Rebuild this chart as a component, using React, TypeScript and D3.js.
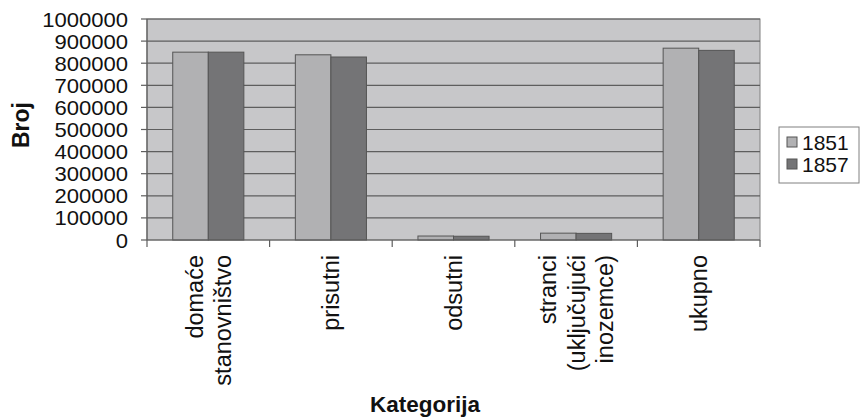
import React from "react";
import * as d3 from "d3";

const categories: string[][] = [
  ["domaće", "stanovništvo"],
  ["prisutni"],
  ["odsutni"],
  ["stranci", "(uključujući", "inozemce)"],
  ["ukupno"],
];
const seriesNames = ["1851", "1857"];
const values1851 = [850000, 838000, 18000, 31000, 868000];
const values1857 = [850000, 828000, 17000, 30000, 858000];
const yTicks = [0, 100000, 200000, 300000, 400000, 500000, 600000, 700000, 800000, 900000, 1000000];

const W = 862;
const H = 417;
const plot = { left: 147, right: 760, top: 19, bottom: 240 };
const colors = ["#b1b1b3", "#747476"];
const FONT = "'Liberation Sans', Arial, sans-serif";

export default function App() {
  const x0 = d3
    .scaleBand<number>()
    .domain(categories.map((_, i) => i))
    .range([plot.left, plot.right])
    .paddingInner(0.42)
    .paddingOuter(0.21);
  const catStep = (plot.right - plot.left) / categories.length;
  const x1 = d3.scaleBand<number>().domain([0, 1]).range([0, x0.bandwidth()]);
  const y = d3.scaleLinear().domain([0, 1000000]).range([plot.bottom, plot.top]);
  const series = [values1851, values1857];

  return (
    <svg
      width={W}
      height={H}
      style={{ position: "absolute", left: 0, top: 0, background: "#fff" }}
      fontFamily={FONT}
    >
      <rect
        x={plot.left}
        y={plot.top}
        width={plot.right - plot.left}
        height={plot.bottom - plot.top}
        fill="#c7c7c9"
        stroke="#808080"
        strokeWidth={1}
      />
      {yTicks.map((t) => (
        <g key={t}>
          {t > 0 && (
            <line x1={plot.left} x2={plot.right} y1={y(t)} y2={y(t)} stroke="#5e5e5e" strokeWidth={1.2} />
          )}
          <line x1={plot.left - 6} x2={plot.left} y1={y(t)} y2={y(t)} stroke="#5e5e5e" strokeWidth={1.2} />
          <text
            transform={`translate(${plot.left - 19},${y(t)}) scale(1.05,1)`}
            dy="0.36em"
            textAnchor="end"
            fontSize={21}
            fill="#111"
          >
            {t}
          </text>
        </g>
      ))}
      <line x1={plot.left} x2={plot.left} y1={plot.top} y2={plot.bottom} stroke="#5e5e5e" strokeWidth={1.2} />
      {series.map((vals, s) =>
        vals.map((v, i) => (
          <rect
            key={`${s}-${i}`}
            x={(x0(i) as number) + (x1(s) as number)}
            y={y(v)}
            width={x1.bandwidth()}
            height={plot.bottom - y(v)}
            fill={colors[s]}
            stroke="#555"
            strokeWidth={1}
          />
        ))
      )}
      <line x1={plot.left} x2={plot.right} y1={plot.bottom} y2={plot.bottom} stroke="#5e5e5e" strokeWidth={1.2} />
      {d3.range(categories.length + 1).map((i) => (
        <line
          key={i}
          x1={plot.left + i * catStep}
          x2={plot.left + i * catStep}
          y1={plot.bottom}
          y2={plot.bottom + 7}
          stroke="#5e5e5e"
          strokeWidth={1.2}
        />
      ))}
      {categories.map((lines, i) => {
        const cx = plot.left + (i + 0.5) * catStep;
        const spacing = 28.5;
        return lines.map((ln, j) => {
          const lx = cx + (j - (lines.length - 1) / 2) * spacing;
          return (
            <text
              key={`${i}-${j}`}
              transform={`translate(${lx},255) rotate(-90)`}
              textAnchor="end"
              dy="0.36em"
              fontSize={23.5}
              fill="#111"
            >
              {ln}
            </text>
          );
        });
      })}
      <text x={425} y={412} textAnchor="middle" fontSize={22.5} fontWeight="bold" fill="#111">
        Kategorija
      </text>
      <text
        transform={`translate(29,125) rotate(-90)`}
        textAnchor="middle"
        fontSize={23}
        fontWeight="bold"
        fill="#111"
      >
        Broj
      </text>
      <g>
        <rect x={779} y={127} width={80} height={56} fill="#fff" stroke="#808080" strokeWidth={1} />
        {seriesNames.map((n, i) => (
          <g key={n} transform={`translate(787,${142 + i * 22})`}>
            <rect x={0} y={-5} width={10} height={10} fill={colors[i]} stroke="#555" strokeWidth={1} />
            <text x={15} y={0} dy="0.36em" fontSize={21} fill="#111">
              {n}
            </text>
          </g>
        ))}
      </g>
    </svg>
  );
}
